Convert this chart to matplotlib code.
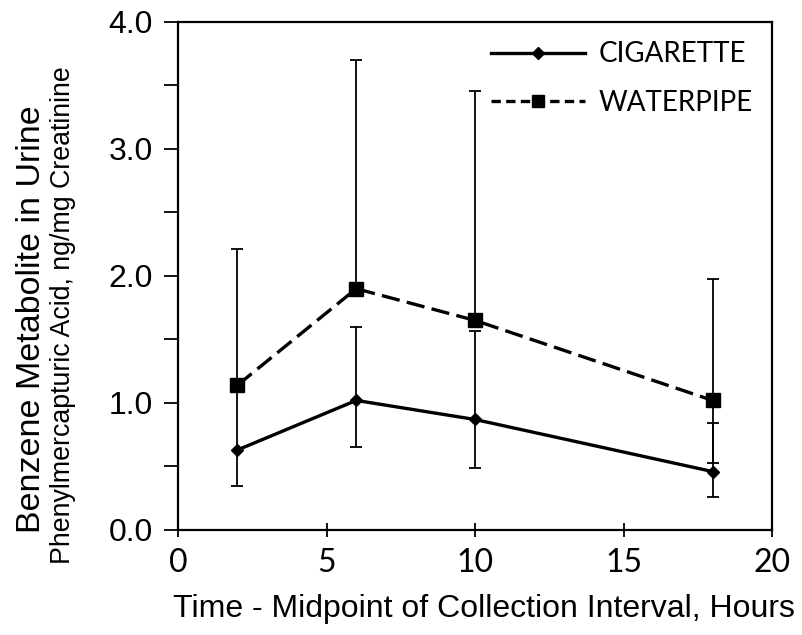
import matplotlib
matplotlib.use("Agg")
import matplotlib.pyplot as plt
from matplotlib.ticker import MultipleLocator
from matplotlib.lines import Line2D

hours = [2, 6, 10, 18]
cig = [0.63, 1.02, 0.87, 0.46]
cig_low = [0.35, 0.65, 0.49, 0.26]
cig_high = [1.14, 1.60, 1.57, 0.84]
wp = [1.14, 1.90, 1.65, 1.02]
wp_low = [1.14, 1.90, 1.65, 0.53]
wp_high = [2.21, 3.70, 3.46, 1.98]

xticks = [0, 5, 10, 15, 20]
yticks = [0.0, 1.0, 2.0, 3.0, 4.0]

plt.rcParams['font.family'] = ['Liberation Sans', 'DejaVu Sans']
fig = plt.figure(figsize=(8.02, 6.35), dpi=100)
ax = fig.add_axes([0.222, 0.1654, 0.7406, 0.8])

cig_err = [[c - l for c, l in zip(cig, cig_low)], [h - c for c, h in zip(cig, cig_high)]]
wp_err = [[c - l for c, l in zip(wp, wp_low)], [h - c for c, h in zip(wp, wp_high)]]

ax.errorbar(hours, cig, yerr=cig_err, fmt='none', ecolor='black', elinewidth=1.3, capsize=4, capthick=1.3, zorder=2)
ax.errorbar(hours, wp, yerr=wp_err, fmt='none', ecolor='black', elinewidth=1.3, capsize=4, capthick=1.3, zorder=2)
ax.plot(hours, cig, color='black', lw=2.4, marker='D', markersize=6.5, zorder=3)
ax.plot(hours, wp, color='black', lw=2.4, ls=(0, (5.5, 2.2)), marker='s', markersize=10.5, zorder=3)

ax.set_xlim(0, 20)
ax.set_ylim(0, 4.0)
ax.set_xticks(xticks)
ax.set_xticklabels([str(t) for t in xticks], family='Lato', fontsize=23)
ax.set_yticks(yticks)
ax.set_yticklabels([f"{t:.1f}" for t in yticks], fontsize=23)
ax.yaxis.set_minor_locator(MultipleLocator(0.5))
ax.tick_params(axis='x', which='major', direction='inout', length=10, width=1.3, pad=8)
ax.tick_params(axis='y', which='major', direction='out', length=10, width=1.3, pad=8)
ax.tick_params(axis='y', which='minor', direction='out', length=10, width=1.3)
for s in ax.spines.values():
    s.set_linewidth(1.6)

fig.text(0.604, 1 - 617 / 635, 'Time - Midpoint of Collection Interval, Hours', fontsize=23,
         ha='center', va='baseline')
fig.text(0.039, 0.497, 'Benzene Metabolite in Urine', rotation=90, fontsize=24.5, ha='center', va='center')
fig.text(0.079, 0.504, 'Phenylmercapturic Acid, ng/mg Creatinine', rotation=90, fontsize=19.3, ha='center', va='center')

handles = [
    Line2D([], [], color='black', lw=2.4, marker='D', markersize=6.5),
    Line2D([], [], color='black', lw=2.4, ls=(0, (2.8, 1.6)), marker='s', markersize=8),
]
ax.legend(handles, ['CIGARETTE', 'WATERPIPE'], loc='upper right', bbox_to_anchor=(1.0, 1.0),
          frameon=False, handlelength=3.4, handletextpad=0.47, labelspacing=0.8,
          borderaxespad=0.3, prop={'family': 'Lato', 'size': 20})

fig.savefig('out.png', dpi=100)
